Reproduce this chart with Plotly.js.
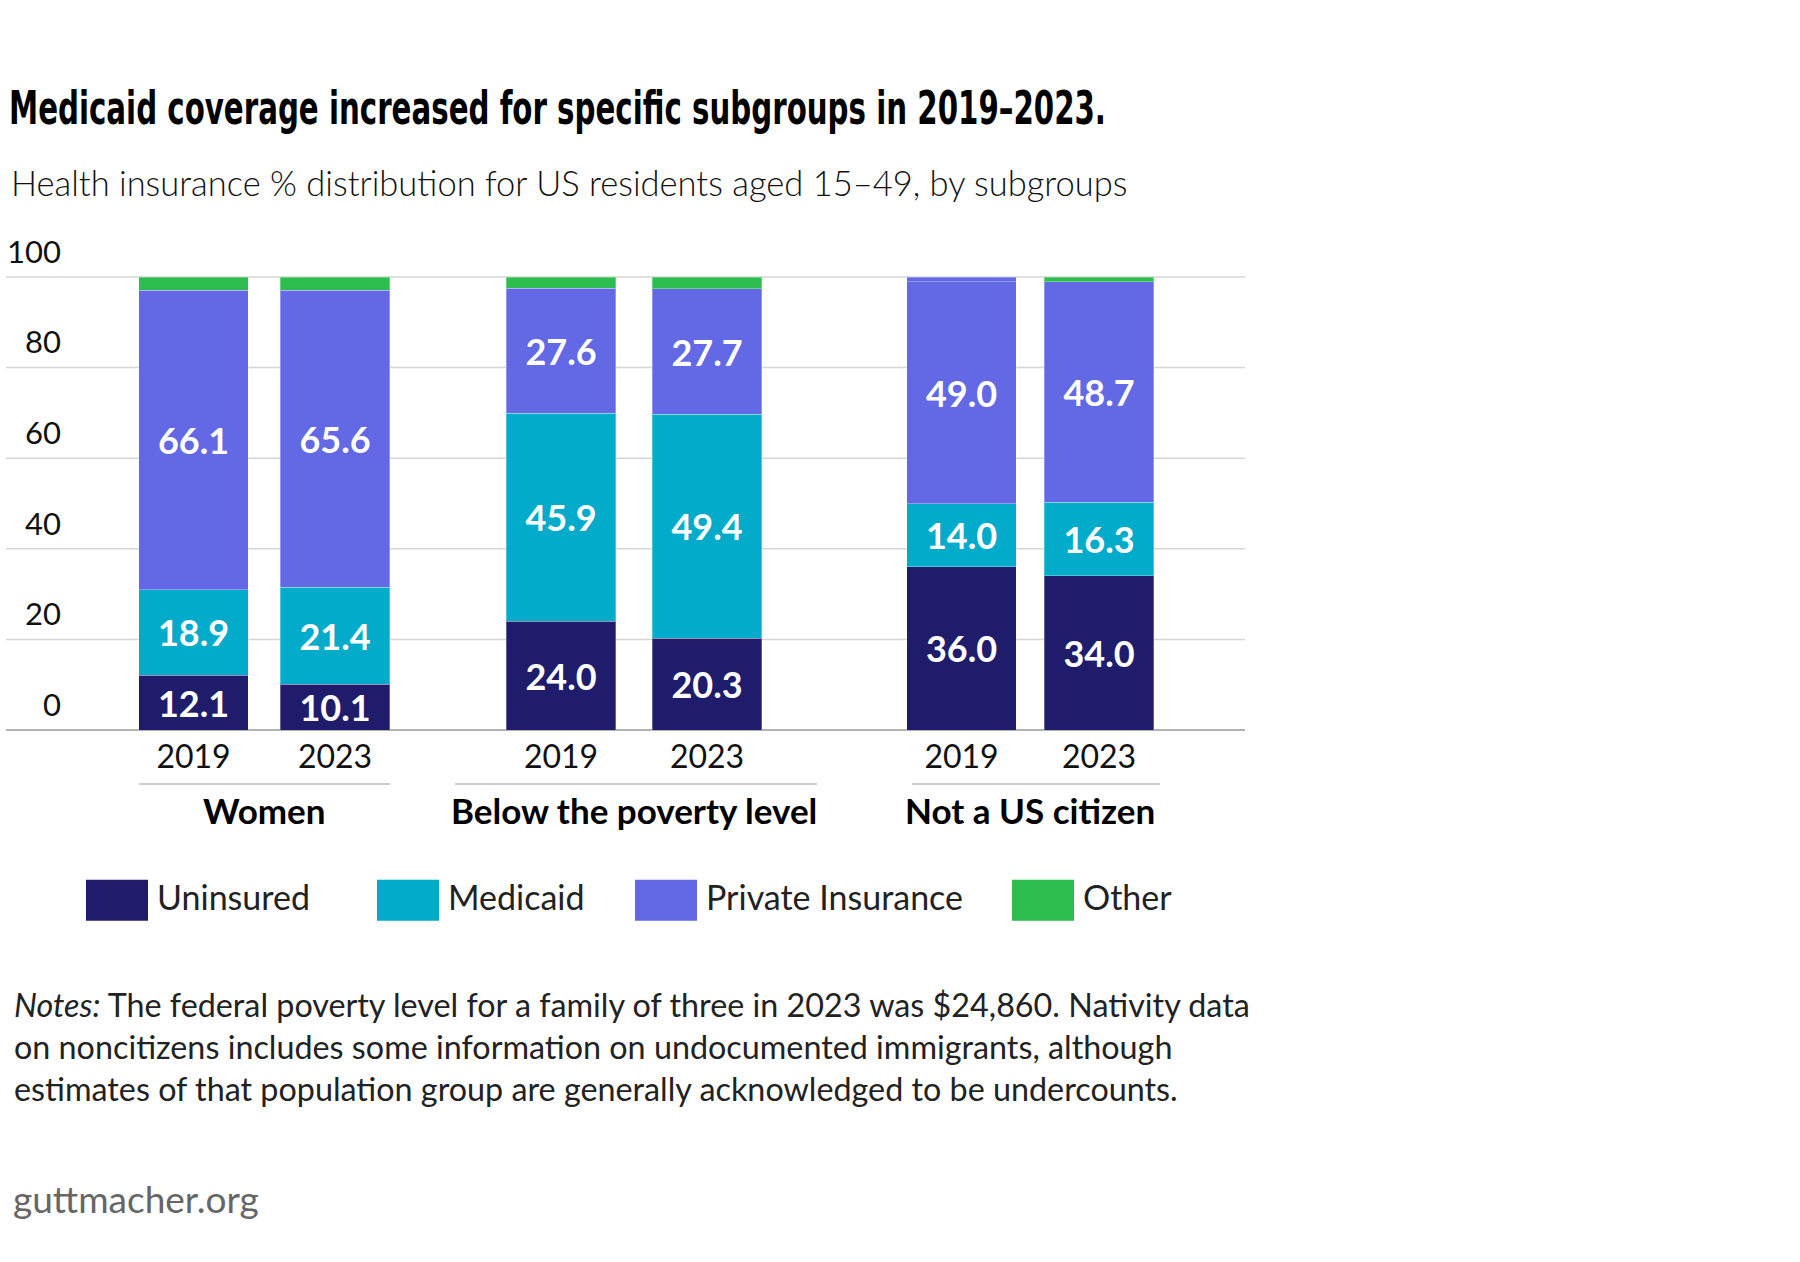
<!DOCTYPE html>
<html>
<head>
<meta charset="utf-8">
<script src="https://cdn.plot.ly/plotly-3.0.1.min.js"></script>
<style>
  html, body { margin: 0; padding: 0; background: #fff; }
  #chart { width: 1800px; height: 1262px; }
</style>
</head>
<body>
<div id="chart"></div>
<script>
// ---------------- DATA ----------------
const groups = ['Women', 'Below the poverty level', 'Not a US citizen'];
const years = ['2019', '2023'];
// values in group order: Women 2019, Women 2023, Poverty 2019, Poverty 2023, Noncitizen 2019, Noncitizen 2023
const uninsured = [12.1, 10.1, 24.0, 20.3, 36.0, 34.0];
const medicaid  = [18.9, 21.4, 45.9, 49.4, 14.0, 16.3];
const privateInsurance = [66.1, 65.6, 27.6, 27.7, 49.0, 48.7];
const other     = [2.9, 2.9, 2.5, 2.6, 1.0, 1.0];
const seriesNames = ['Uninsured', 'Medicaid', 'Private Insurance', 'Other'];
const yTicks = [0, 20, 40, 60, 80, 100];
const yTickLabels = ['0', '20', '40', '60', '80', '100'];

// ---------------- STYLE / LAYOUT ----------------
const W = 1800, H = 1262;
const PL = 6, PR = 1245, PT = 276.5, PB = 730;
const yRange = [0, 100];
const px = v => (v - PL) / (PR - PL);
const py = v => (PB - v) / (PB - PT);

const FONT = 'Lato, "Open Sans", "Noto Sans", sans-serif';
const TITLE_FONT = '"Liberation Sans Narrow", "DejaVu Sans Condensed", "DejaVu Sans", sans-serif';
const colors = ['#201c6c', '#03abcb', '#6369e4', '#2dbd4e'];
const seriesValues = [uninsured, medicaid, privateInsurance, other];
const showLabel = [true, true, true, false];

const groupDomainsPx = [[122.75, 405.75], [488, 780], [892.75, 1167.75]];
const barPx = 109.5;
const groupLinePx = [[139, 390], [455, 817], [912, 1160]];
const legendSwatchX = [86, 377, 635, 1012];
const TITLE_WIDTH = 1097;

const traces = [];
groups.forEach((g, gi) => {
  const dom = groupDomainsPx[gi];
  const step = (dom[1] - dom[0]) / 2;
  const wUnits = barPx / step;
  seriesValues.forEach((vals, si) => {
    const y = vals.slice(gi * 2, gi * 2 + 2);
    let mcolor = colors[si];
    // In the source, the thin "Other" slice of the noncitizen 2019 bar is drawn in the private-insurance colour
    if (si === 3 && gi === 2) mcolor = [colors[2], colors[3]];
    traces.push({
      type: 'bar',
      name: seriesNames[si],
      x: years,
      y: y,
      xaxis: 'x' + (gi + 2),
      yaxis: 'y',
      width: wUnits,
      marker: { color: mcolor, line: { color: 'rgba(255,255,255,0.3)', width: 1 } },
      text: showLabel[si] ? y.map(v => v.toFixed(1)) : y.map(() => ''),
      textposition: showLabel[si] ? 'inside' : 'none',
      insidetextanchor: 'middle',
      constraintext: 'none',
      textfont: { family: FONT, size: 36, color: '#ffffff', weight: 700 },
      hoverinfo: 'skip',
      showlegend: false
    });
  });
});

const layout = {
  width: W, height: H,
  margin: { l: PL, r: W - PR, t: PT, b: H - PB, pad: 0 },
  paper_bgcolor: '#ffffff',
  plot_bgcolor: 'rgba(0,0,0,0)',
  barmode: 'stack',
  showlegend: false,
  font: { family: FONT, color: '#111' },
  title: {
    text: 'Medicaid coverage increased for specific subgroups in 2019–2023.',
    font: { family: TITLE_FONT, size: 47, color: '#000', weight: 700 },
    x: 9 / W, xref: 'container', xanchor: 'left',
    y: 1 - 108 / H, yref: 'container', yanchor: 'middle'
  },
  yaxis: {
    range: yRange, anchor: 'free', position: px(63),
    tickvals: yTicks, ticktext: yTickLabels,
    ticks: '', showline: false,
    showgrid: false, zeroline: false,
    tickfont: { family: FONT, size: 31, color: '#111' },
    ticklabelshift: -25, ticklabelstandoff: 2,
    fixedrange: true
  },
  annotations: [],
  shapes: []
};

// horizontal grid lines at the y ticks, spanning the whole plotting width
yTicks.forEach(v => {
  const yp = (v - yRange[0]) / (yRange[1] - yRange[0]);
  layout.shapes.push({
    type: 'line', xref: 'paper', yref: 'paper', x0: 0, x1: 1, y0: yp, y1: yp, layer: 'below',
    line: { color: v === 0 ? '#b3b3b3' : '#d6d6d6', width: v === 0 ? 2 : 1.5 }
  });
});

groups.forEach((g, gi) => {
  const dom = groupDomainsPx[gi];
  layout['xaxis' + (gi + 2)] = {
    domain: [px(dom[0]), px(dom[1])], anchor: 'y', type: 'category',
    categoryarray: years, range: [-0.5, 1.5],
    showgrid: false, zeroline: false, showline: false, ticks: '',
    tickfont: { family: FONT, size: 32, color: '#111' },
    ticklabelstandoff: 5, fixedrange: true
  };
  // group label
  layout.annotations.push({
    text: '<b>' + g + '</b>', xref: 'paper', yref: 'paper',
    x: px((dom[0] + dom[1]) / 2), y: py(810), xanchor: 'center', yanchor: 'middle',
    showarrow: false, font: { family: FONT, size: 35, color: '#000' }
  });
  // divider line under the year labels
  layout.shapes.push({
    type: 'line', xref: 'paper', yref: 'paper',
    x0: px(groupLinePx[gi][0]), x1: px(groupLinePx[gi][1]), y0: py(784), y1: py(784),
    line: { color: '#cccccc', width: 2 }
  });
});

// subtitle
layout.annotations.push({
  text: 'Health insurance % distribution for US residents aged 15–49, by subgroups',
  xref: 'paper', yref: 'paper', x: px(9), y: py(182), xanchor: 'left', yanchor: 'middle',
  showarrow: false, font: { family: FONT, size: 34.5, color: '#111', weight: 300 }
});

// legend (drawn manually for the large swatches)
seriesNames.forEach((n, i) => {
  const x0 = legendSwatchX[i];
  layout.shapes.push({
    type: 'rect', xref: 'paper', yref: 'paper',
    x0: px(x0), x1: px(x0 + 62), y0: py(921), y1: py(880),
    fillcolor: colors[i], line: { width: 0 }
  });
  layout.annotations.push({
    text: n, xref: 'paper', yref: 'paper', x: px(x0 + 69), y: py(897),
    xanchor: 'left', yanchor: 'middle', showarrow: false,
    font: { family: FONT, size: 34, color: '#222' }
  });
});

// notes
layout.annotations.push({
  text: '<i>Notes:</i> The federal poverty level for a family of three in 2023 was $24,860. Nativity data<br>' +
        'on noncitizens includes some information on undocumented immigrants, although<br>' +
        'estimates of that population group are generally acknowledged to be undercounts.',
  xref: 'paper', yref: 'paper', x: px(12), y: py(1047), xanchor: 'left', yanchor: 'middle',
  align: 'left', showarrow: false,
  font: { family: FONT, size: 32.3, color: '#222' }
});

// footer
layout.annotations.push({
  text: 'guttmacher.org', xref: 'paper', yref: 'paper', x: px(11), y: py(1199),
  xanchor: 'left', yanchor: 'middle', showarrow: false,
  font: { family: FONT, size: 37, color: '#666' }
});

const gd = document.getElementById('chart');
Plotly.newPlot(gd, traces, layout, { displayModeBar: false, staticPlot: true }).then(() => {
  // condensed look of the original headline: fit the title text to its original width
  const t = gd.querySelector('.gtitle');
  if (t) {
    t.setAttribute('textLength', TITLE_WIDTH);
    t.setAttribute('lengthAdjust', 'spacingAndGlyphs');
  }
});
</script>
</body>
</html>
